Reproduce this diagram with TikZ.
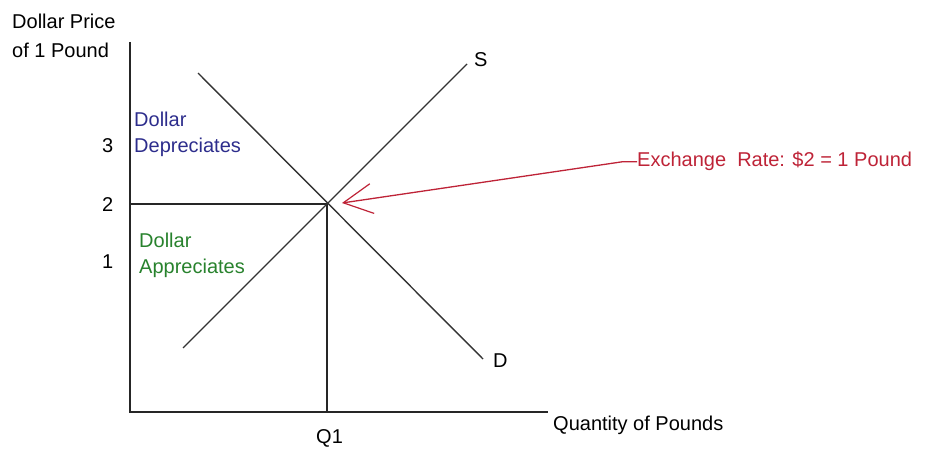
\documentclass[tikz,border=0pt]{standalone}
\usepackage{fontspec}
\setmainfont{Liberation Sans}
\usetikzlibrary{arrows.meta}
\definecolor{depblue}{RGB}{45,45,140}
\definecolor{appgreen}{RGB}{40,130,45}
\definecolor{rateRed}{RGB}{190,35,55}
\begin{document}
\begin{tikzpicture}[x=1pt,y=-1pt,
  lbl/.style={font=\fontsize{20}{29}\selectfont, inner sep=0pt, anchor=base west, align=left},
  tight/.style={font=\fontsize{20}{26}\selectfont},
  axis/.style={line width=1.7pt, black!85},
  curve/.style={line width=1.4pt, black!80},
  guide/.style={line width=1.7pt, black!85},
  ratearrow/.style={line width=1.3pt, rateRed, -{Straight Barb[length=29pt,width=30pt,line width=1.2pt]}}]
\useasboundingbox (0,0) rectangle (925,449);
% axes
\coordinate (ytop) at (130,42);
\coordinate (origin) at (130,412);
\coordinate (xend) at (548,412);
\draw[axis] (ytop) -- (origin) -- (xend);
% equilibrium
\coordinate (eq) at (327,204);
\coordinate (y2) at (130,204);
\coordinate (q1) at (327,412);
\draw[guide] (y2) -- (eq) -- (q1);
% supply and demand
\coordinate (s0) at (183,348);
\coordinate (s1) at (467,64);
\coordinate (d0) at (198,73);
\coordinate (d1) at (483,359);
\draw[curve] (s0) -- (s1);
\draw[curve] (d0) -- (d1);
% labels
\node[lbl] (ylab) at (12,58) {Dollar Price\\of 1 Pound};
\node[lbl] (t3) at (102,153) {3};
\node[lbl] (t2) at (102,211) {2};
\node[lbl] (t1) at (102,268) {1};
\node[lbl, tight, text=depblue] (dep) at (134,153) {Dollar\\Depreciates};
\node[lbl, tight, text=appgreen] (app) at (139,273) {Dollar\\Appreciates};
\node[lbl] (slab) at (474,67) {S};
\node[lbl] (dlab) at (493,367) {D};
\node[lbl] (q1lab) at (316,443) {Q1};
\node[lbl] (xlab) at (553,430) {Quantity of Pounds};
\node[lbl, text=rateRed] (rate) at (637,167) {Exchange\ \ Rate: \$2 = 1 Pound};
\coordinate (tip) at (342,203);
\draw[ratearrow] (rate.west) ++(-14,0) coordinate (rs) (rate.west) -- (rs) -- (tip);
\end{tikzpicture}
\end{document}
